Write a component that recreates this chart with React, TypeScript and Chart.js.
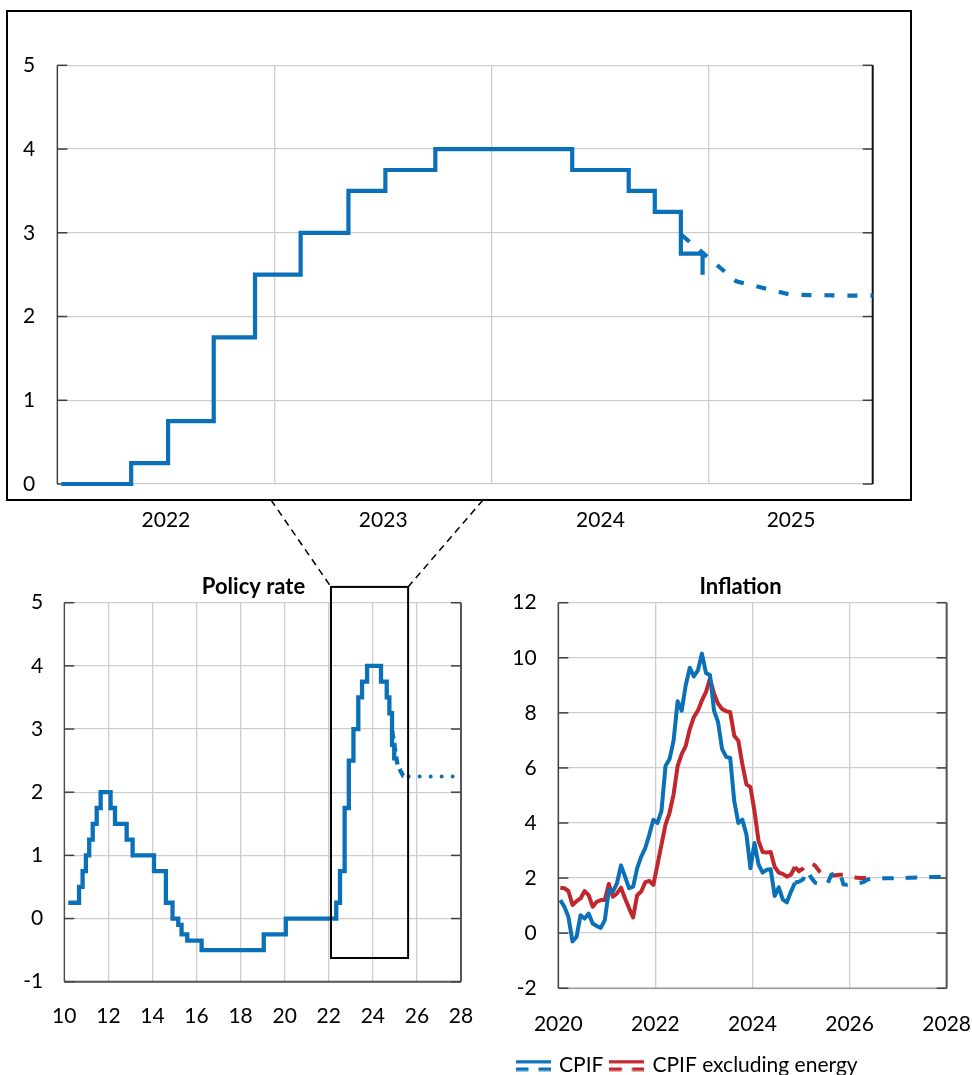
import React, { useEffect, useRef } from 'react';
import { Chart, registerables } from 'chart.js';

Chart.register(...registerables);

const FONT = 'Lato, "Open Sans", sans-serif';
const BLUE = '#0a70b8';
const RED = '#c1272d';
const GRID = '#cdcdcd';

// ---------- Policy rate (decimal years of each change, new level) ----------
const POLICY_DATES = [
  2010.18, 2010.67, 2010.83, 2010.98, 2011.13, 2011.29, 2011.47, 2011.65, 2012.1, 2012.3,
  2012.83, 2013.1, 2014.07, 2014.61, 2014.91, 2015.17, 2015.32, 2015.58, 2016.23, 2019.05,
  2020.05, 2022.34, 2022.51, 2022.72, 2022.91, 2023.12, 2023.34, 2023.51, 2023.74, 2024.37,
  2024.63, 2024.75, 2024.87, 2024.97,
];
const POLICY_RATES = [
  0.25, 0.5, 0.75, 1.0, 1.25, 1.5, 1.75, 2.0, 1.75, 1.5,
  1.25, 1.0, 0.75, 0.25, 0, -0.1, -0.25, -0.35, -0.5, -0.25,
  0, 0.25, 0.75, 1.75, 2.5, 3.0, 3.5, 3.75, 4.0, 3.75,
  3.5, 3.25, 2.75, 2.5,
];
// Policy rate forecast (quarterly)
const POLICY_FC_DATES = [
  2024.875, 2025.125, 2025.375, 2025.625, 2025.875, 2026.125, 2026.375, 2026.625, 2026.875,
  2027.125, 2027.375, 2027.625, 2027.875,
];
const POLICY_FC_RATES = [2.97, 2.42, 2.26, 2.25, 2.25, 2.25, 2.25, 2.25, 2.25, 2.25, 2.25, 2.25, 2.25];
const POLICY_FC_DASHED_COUNT = 4; // first quarters dashed in the long chart, rest dotted

// zoom window shown in the long chart
const ZOOM_X = [2022.1, 2025.6];
const ZOOM_Y = [-0.625, 5.25];

// ---------- Inflation (monthly, from Jan 2020) ----------
const INFL_START_YEAR = 2020;
const CPIF = [
  1.2, 0.96, 0.59, -0.3, -0.14, 0.65, 0.53, 0.71, 0.35, 0.26, 0.19, 0.47,
  1.57, 1.51, 1.81, 2.46, 2.05, 1.63, 1.69, 2.36, 2.78, 3.09, 3.58, 4.12,
  4.0, 4.43, 6.07, 6.32, 6.99, 8.42, 8.08, 9.0, 9.64, 9.32, 9.54, 10.15,
  9.45, 9.37, 8.08, 7.66, 6.68, 6.4, 6.36, 4.79, 4.0, 4.12, 3.58, 2.36,
  3.27, 2.5, 2.2, 2.3, 2.32, 1.35, 1.66, 1.22, 1.12, 1.5, 1.83,
];
const CPIF_XE = [
  1.65, 1.63, 1.53, 1.02, 1.16, 1.26, 1.53, 1.38, 0.96, 1.14, 1.2, 1.2,
  1.79, 1.32, 1.44, 1.65, 1.26, 0.9, 0.57, 1.38, 1.51, 1.85, 1.9, 1.75,
  2.48, 3.21, 3.94, 4.37, 5.04, 6.07, 6.5, 6.8, 7.41, 7.84, 8.08, 8.45,
  8.75, 9.24, 8.69, 8.33, 8.14, 8.06, 8.02, 7.17, 6.99, 6.14, 5.4, 5.3,
  4.43, 3.35, 2.95, 2.93, 2.95, 2.4, 2.2, 2.15, 2.05, 2.12, 2.4,
];
const FC_START_MONTH = 58; // Nov 2024
const CPIF_FC = [
  1.83, 1.87, 1.95, 2.27, 2.02, 1.83, 1.8, 1.76, 1.78, 2.12, 2.2, 2.23,
  1.77, 1.76, 1.78, 1.8, 1.82, 1.86, 1.95, 1.98, 1.98, 1.98, 1.99, 1.99,
  1.99, 2.0, 2.0, 2.0, 2.01, 2.01, 2.02, 2.02, 2.03, 2.03, 2.04, 2.04,
  2.05, 2.05,
];
const CPIF_XE_FC = [
  2.4, 2.25, 2.35, 2.55, 2.55, 2.45, 2.25, 2.12, 2.08, 2.08, 2.1, 2.12,
  2.12, 2.1, 2.05, 2.02, 2.0, 2.0, 2.0,
];

// top chart: gridlines at year starts, labels centred on each visible year
const TOP_X_MIN = 2022;
const TOP_X_MAX = 2025.753;
const TOP_X_TICKS = [2022, 2022.5, 2023, 2023.5, 2024, 2024.5, 2025, 2025.377];

const monthX = (m: number) => INFL_START_YEAR + (m + 0.5) / 12;
const toPts = (xs: number[], ys: number[]) => xs.map((x, i) => ({ x, y: ys[i] }));
const monthlyPts = (vals: number[], start: number) => vals.map((v, i) => ({ x: monthX(start + i), y: v }));

const tickFont = { family: FONT, size: 21 };
const titleFont = { family: FONT, size: 22, weight: 'bold' };

const framePlugin = {
  id: 'frame',
  beforeDatasetsDraw(chart: any, _args: any, opts: any) {
    const { ctx, chartArea: a, scales } = chart;
    const y = scales.y;
    ctx.save();
    const line = (x1: number, y1: number, x2: number, y2: number) => {
      ctx.beginPath();
      ctx.moveTo(x1, y1);
      ctx.lineTo(x2, y2);
      ctx.stroke();
    };
    if (opts.bottom) {
      ctx.strokeStyle = opts.bottom.color;
      ctx.lineWidth = opts.bottom.width;
      line(a.left, a.bottom, a.right, a.bottom);
    }
    ctx.strokeStyle = '#404040';
    ctx.lineWidth = 1.5;
    y.ticks.forEach((t: any) => {
      const py = y.getPixelForValue(t.value);
      line(a.left, py, a.left + 10, py);
      line(a.right - 10, py, a.right, py);
    });
    ctx.strokeStyle = opts.left.color;
    ctx.lineWidth = opts.left.width;
    line(a.left, a.top, a.left, a.bottom);
    ctx.strokeStyle = opts.right.color;
    ctx.lineWidth = opts.right.width;
    line(a.right, a.top, a.right, a.bottom);
    ctx.restore();
  },
};

const boxPlugin = {
  id: 'zoomBox',
  afterDraw(chart: any, _args: any, opts: any) {
    if (!opts || !opts.rect) return;
    const { ctx } = chart;
    const [x, y, w, h] = opts.rect;
    ctx.save();
    ctx.strokeStyle = '#000';
    ctx.lineWidth = 2;
    ctx.strokeRect(x, y, w, h);
    ctx.restore();
  },
};

function makeIcon(color: string) {
  const c = document.createElement('canvas');
  c.width = 35;
  c.height = 12;
  const g = c.getContext('2d')!;
  g.fillStyle = color;
  g.fillRect(0, 0.5, 35, 3.4);
  g.fillRect(0, 8, 12.5, 3.4);
  g.fillRect(22.5, 8, 12.5, 3.4);
  return c;
}

const hiddenTicks = (len: number) => ({ drawTicks: true, tickLength: len, tickColor: 'rgba(0,0,0,0)' });

const TOP_BOX = [7, 11, 904, 489];
const TOP_CONNECT_X = [271, 483];
const TOP_POS = { left: 0, top: 0, width: 972, height: 540 };
const POL_POS = { left: 0, top: 565, width: 507, height: 470 };
const INF_POS = { left: 510, top: 565, width: 461, height: 521 };

export default function App() {
  const topRef = useRef<HTMLCanvasElement>(null);
  const polRef = useRef<HTMLCanvasElement>(null);
  const infRef = useRef<HTMLCanvasElement>(null);
  const ovRef = useRef<HTMLCanvasElement>(null);

  useEffect(() => {
    const charts: any[] = [];
    const policyPts = toPts(POLICY_DATES, POLICY_RATES);
    const fcPts = toPts(POLICY_FC_DATES, POLICY_FC_RATES);

    // ---------- Top zoomed chart ----------
    const top = new Chart(topRef.current!, {
      type: 'line',
      data: {
        datasets: [
          { data: policyPts, borderColor: BLUE, borderWidth: 4.2, stepped: 'before', pointRadius: 0, clip: { left: -4, right: 0, top: 5, bottom: 5 } } as any,
          { data: fcPts, borderColor: BLUE, borderWidth: 4.2, borderDash: [10, 13], pointRadius: 0, clip: { left: 0, right: 0, top: 5, bottom: 5 } } as any,
        ],
      },
      options: {
        animation: false,
        responsive: false,
        events: [],
        layout: { padding: { top: 65.3, right: 99.3, left: 0, bottom: 0 } },
        plugins: {
          legend: { display: false },
          tooltip: { enabled: false },
          frame: { left: { color: '#333', width: 1.3 }, right: { color: '#111', width: 2 } },
          zoomBox: { rect: TOP_BOX },
        } as any,
        scales: {
          x: {
            type: 'linear',
            min: TOP_X_MIN,
            max: TOP_X_MAX,
            afterBuildTicks: (s: any) => {
              s.ticks = TOP_X_TICKS.map((v) => ({ value: v }));
            },
            afterFit: (s: any) => {
              s.height = 56;
            },
            grid: {
              color: (c: any) => (c.tick && Number.isInteger(c.tick.value) ? GRID : 'rgba(0,0,0,0)'),
              lineWidth: 1.3,
              ...hiddenTicks(23.4),
            },
            border: { display: false },
            ticks: {
              autoSkip: false,
              maxRotation: 0,
              padding: 0,
              font: tickFont,
              color: '#000',
              callback: (v: any) => (Number.isInteger(Number(v)) ? '' : String(Math.floor(Number(v)))),
            },
          },
          y: {
            min: 0,
            max: 5,
            afterFit: (s: any) => {
              s.width = 57.3;
            },
            grid: { color: GRID, lineWidth: 1.3, drawTicks: false },
            border: { display: false },
            ticks: { stepSize: 1, padding: 22, font: tickFont, color: '#000' },
          },
        },
      } as any,
      plugins: [framePlugin, boxPlugin],
    });
    charts.push(top);

    // ---------- Policy rate long chart ----------
    const pol = new Chart(polRef.current!, {
      type: 'line',
      data: {
        datasets: [
          { data: policyPts, borderColor: BLUE, borderWidth: 4.3, stepped: 'before', pointRadius: 0 } as any,
          { data: fcPts.slice(0, POLICY_FC_DASHED_COUNT), borderColor: BLUE, borderWidth: 4.3, borderDash: [8, 5], pointRadius: 0 } as any,
          { data: fcPts.slice(POLICY_FC_DASHED_COUNT - 1), borderColor: BLUE, borderWidth: 4, borderDash: [0, 11], borderCapStyle: 'round', pointRadius: 0 } as any,
        ],
      },
      options: {
        animation: false,
        responsive: false,
        events: [],
        layout: { padding: 0 },
        plugins: {
          legend: { display: false },
          tooltip: { enabled: false },
          title: {
            display: true,
            text: 'Policy rate',
            color: '#000',
            font: titleFont,
            padding: { top: 8.8, bottom: 2.5 },
          },
          frame: { left: { color: '#444', width: 1.3 }, right: { color: '#555', width: 2 }, bottom: { color: '#555', width: 2 } },
        } as any,
        scales: {
          x: {
            type: 'linear',
            min: 2010,
            max: 2028,
            afterFit: (s: any) => {
              s.height = 53.3;
            },
            grid: { color: GRID, lineWidth: 1.3, ...hiddenTicks(22.4) },
            border: { display: false },
            ticks: {
              stepSize: 2,
              autoSkip: false,
              maxRotation: 0,
              padding: 0,
              font: tickFont,
              color: '#000',
              callback: (v: any) => String(Number(v) - 2000),
            },
          },
          y: {
            min: -1,
            max: 5,
            afterFit: (s: any) => {
              s.width = 64.3;
            },
            grid: { color: GRID, lineWidth: 1.3, drawTicks: false },
            border: { display: false },
            ticks: { stepSize: 1, padding: 21, font: tickFont, color: '#000' },
          },
          yr: {
            position: 'right',
            min: -1,
            max: 5,
            afterFit: (s: any) => {
              s.width = 46;
            },
            grid: { display: false, drawTicks: false },
            border: { display: false },
            ticks: { display: false },
          },
        },
      } as any,
      plugins: [framePlugin],
    });
    charts.push(pol);

    // ---------- Inflation chart ----------
    const iconBlue = makeIcon(BLUE);
    const iconRed = makeIcon(RED);
    const inf = new Chart(infRef.current!, {
      type: 'line',
      data: {
        datasets: [
          { label: 'CPIF', data: monthlyPts(CPIF, 0), borderColor: BLUE, borderWidth: 4, borderJoinStyle: 'round', pointRadius: 0 } as any,
          { label: 'CPIF forecast', data: monthlyPts(CPIF_FC, FC_START_MONTH), borderColor: BLUE, borderWidth: 4, borderDash: [11.5, 12], pointRadius: 0 } as any,
          { label: 'CPIF excluding energy', data: monthlyPts(CPIF_XE, 0), borderColor: RED, borderWidth: 4, borderJoinStyle: 'round', pointRadius: 0 } as any,
          { label: 'CPIF excluding energy forecast', data: monthlyPts(CPIF_XE_FC, FC_START_MONTH), borderColor: RED, borderWidth: 4, borderDash: [11.5, 12], pointRadius: 0 } as any,
        ],
      },
      options: {
        animation: false,
        responsive: false,
        events: [],
        layout: { padding: 0 },
        plugins: {
          tooltip: { enabled: false },
          title: {
            display: true,
            text: 'Inflation',
            color: '#000',
            font: titleFont,
            padding: { top: 8.8, bottom: 2.5 },
          },
          legend: {
            display: true,
            position: 'bottom',
            align: 'start',
            labels: {
              usePointStyle: true,
              pointStyleWidth: 30,
              padding: 8.5,
              font: { family: FONT, size: 21 },
              color: '#000',
              generateLabels: () => [
                { text: 'CPIF', pointStyle: iconBlue, fontColor: '#000', lineWidth: 0, hidden: false, datasetIndex: 0 },
                { text: 'CPIF excluding energy', pointStyle: iconRed, fontColor: '#000', lineWidth: 0, hidden: false, datasetIndex: 2 },
              ],
            },
          },
          frame: { left: { color: '#444', width: 1.5 }, right: { color: '#555', width: 2 }, bottom: { color: '#999', width: 1.5 } },
        } as any,
        scales: {
          x: {
            type: 'linear',
            min: 2020,
            max: 2028,
            afterFit: (s: any) => {
              s.height = 58.3;
            },
            grid: { color: GRID, lineWidth: 1.3, ...hiddenTicks(23.1) },
            border: { display: false },
            ticks: {
              stepSize: 2,
              autoSkip: false,
              maxRotation: 0,
              padding: 0,
              font: tickFont,
              color: '#000',
              callback: (v: any) => String(v),
            },
          },
          y: {
            min: -2,
            max: 12,
            afterFit: (s: any) => {
              s.width = 48.3;
            },
            grid: { color: GRID, lineWidth: 1.3, drawTicks: false },
            border: { display: false },
            ticks: { stepSize: 2, padding: 21.6, font: tickFont, color: '#000' },
          },
          yr: {
            position: 'right',
            min: -2,
            max: 12,
            afterFit: (s: any) => {
              s.width = 24.3;
            },
            grid: { display: false, drawTicks: false },
            border: { display: false },
            ticks: { display: false },
          },
        },
      } as any,
      plugins: [framePlugin],
    });
    charts.push(inf);

    // ---------- Overlay: zoom window rectangle and connectors ----------
    const ov = ovRef.current!;
    const g = ov.getContext('2d')!;
    g.clearRect(0, 0, ov.width, ov.height);
    const sx = (pol as any).scales.x;
    const sy = (pol as any).scales.y;
    const rx1 = POL_POS.left + sx.getPixelForValue(ZOOM_X[0]);
    const rx2 = POL_POS.left + sx.getPixelForValue(ZOOM_X[1]);
    const ry1 = POL_POS.top + sy.getPixelForValue(ZOOM_Y[1]);
    const ry2 = POL_POS.top + sy.getPixelForValue(ZOOM_Y[0]);
    g.strokeStyle = '#000';
    g.lineWidth = 2;
    g.strokeRect(rx1, ry1, rx2 - rx1, ry2 - ry1);
    const boxBottom = TOP_BOX[1] + TOP_BOX[3];
    g.lineWidth = 1.5;
    g.setLineDash([7, 5]);
    g.beginPath();
    g.moveTo(TOP_CONNECT_X[0], boxBottom);
    g.lineTo(rx1, ry1);
    g.moveTo(TOP_CONNECT_X[1], boxBottom);
    g.lineTo(rx2, ry1);
    g.stroke();

    return () => {
      charts.forEach((c) => c.destroy());
    };
  }, []);

  const abs = (p: { left: number; top: number; width: number; height: number }) => ({
    position: 'absolute' as const,
    left: p.left,
    top: p.top,
    width: p.width,
    height: p.height,
  });

  return (
    <div style={{ position: 'absolute', left: 0, top: 0, width: 972, height: 1075, overflow: 'hidden', background: '#fff' }}>
      <canvas ref={topRef} width={TOP_POS.width} height={TOP_POS.height} style={abs(TOP_POS)} />
      <canvas ref={polRef} width={POL_POS.width} height={POL_POS.height} style={abs(POL_POS)} />
      <canvas ref={infRef} width={INF_POS.width} height={INF_POS.height} style={abs(INF_POS)} />
      <canvas ref={ovRef} width={972} height={1075} style={{ ...abs({ left: 0, top: 0, width: 972, height: 1075 }), pointerEvents: 'none' }} />
    </div>
  );
}
